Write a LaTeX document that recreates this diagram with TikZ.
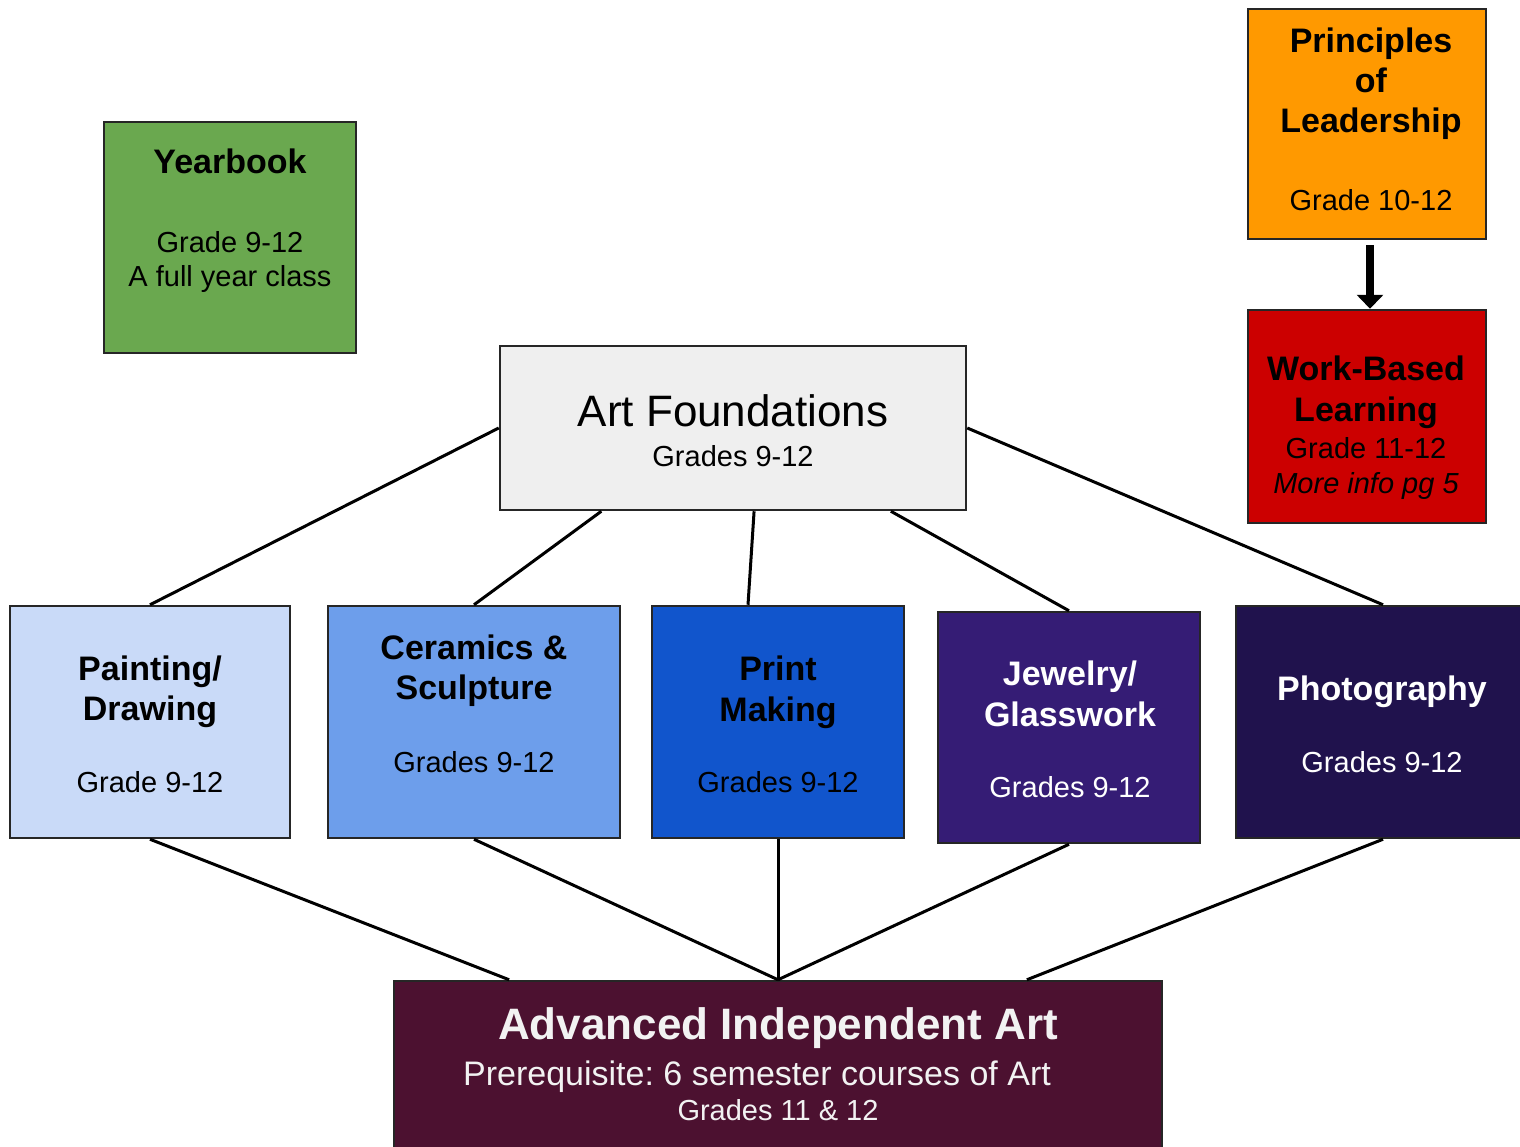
\documentclass[tikz,border=0pt]{standalone}
\usepackage{fontspec}
\setmainfont{Liberation Sans}
\usetikzlibrary{arrows.meta,calc}
\frenchspacing
\definecolor{cyb}{HTML}{6AA84F}
\definecolor{cpl}{HTML}{FF9900}
\definecolor{cwbl}{HTML}{CC0000}
\definecolor{caf}{HTML}{EFEFEF}
\definecolor{cpd}{HTML}{C9DAF8}
\definecolor{ccs}{HTML}{6D9EEB}
\definecolor{cpm}{HTML}{1155CC}
\definecolor{cjg}{HTML}{351C75}
\definecolor{cph}{HTML}{20124D}
\definecolor{caia}{HTML}{4C1130}
\begin{document}
\begin{tikzpicture}[x=1pt,y=-1pt,
  box/.style={draw=black!85, line width=2.5pt, rectangle, inner sep=0pt},
  conn/.style={draw=black, line width=3pt},
  tb/.style={font=\fontsize{34}{40}\selectfont\bfseries, anchor=base, inner sep=0pt},
  tr/.style={font=\fontsize{29}{34}\selectfont, anchor=base, inner sep=0pt},
  ti/.style={font=\fontsize{29}{34}\selectfont\itshape, anchor=base, inner sep=0pt}]
\useasboundingbox (0,0) rectangle (1520,1146);

% boxes
\node[box, fill=cyb, minimum width=252pt, minimum height=231pt] (yb) at (230,237.5) {};
\node[box, fill=cpl, minimum width=238pt, minimum height=230pt] (pl) at (1367,124) {};
\node[box, fill=cwbl, minimum width=238pt, minimum height=213pt] (wbl) at (1367,416.5) {};
\node[box, fill=caf, minimum width=466pt, minimum height=164pt] (af) at (733,428) {};
\node[box, fill=cpd, minimum width=280pt, minimum height=232pt] (pd) at (150,722) {};
\node[box, fill=ccs, minimum width=292pt, minimum height=232pt] (cs) at (474,722) {};
\node[box, fill=cpm, minimum width=252pt, minimum height=232pt] (pm) at (778,722) {};
\node[box, fill=cjg, minimum width=262pt, minimum height=231pt] (jg) at (1069,727.5) {};
\node[box, fill=cph, minimum width=294pt, minimum height=232pt] (ph) at (1383,722) {};
\node[box, fill=caia, minimum width=768pt, minimum height=179pt] (aia) at (778,1070.5) {};

% texts
\node[tb] at (230,173) {Yearbook};
\node[tr] at (230,252) {Grade 9-12};
\node[tr] at (230,286) {A full year class};

\node[tb] at (1371,52) {Principles};
\node[tb] at (1371,92) {of};
\node[tb] at (1371,132) {Leadership};
\node[tr] at (1371,210) {Grade 10-12};

\node[tb] at (1366,380) {Work-Based};
\node[tb] at (1366,421) {Learning};
\node[tr] at (1366,458) {Grade 11-12};
\node[ti] at (1366,493) {More info pg 5};

\node[font=\fontsize{44}{50}\selectfont, anchor=base, inner sep=0pt] at (733,426) {Art Foundations};
\node[tr] at (733,466) {Grades 9-12};

\node[tb] at (150,680) {Painting/};
\node[tb] at (150,720) {Drawing};
\node[tr] at (150,792) {Grade 9-12};

\node[tb] at (474,659) {Ceramics \&};
\node[tb] at (474,699) {Sculpture};
\node[tr] at (474,772) {Grades 9-12};

\node[tb] at (778,680) {Print};
\node[tb] at (778,721) {Making};
\node[tr] at (778,792) {Grades 9-12};

\node[tb, text=white] at (1070,685) {Jewelry/};
\node[tb, text=white] at (1070,726) {Glasswork};
\node[tr, text=white] at (1070,797) {Grades 9-12};

\node[tb, text=white] at (1382,700) {Photography};
\node[tr, text=white] at (1382,772) {Grades 9-12};

\node[font=\fontsize{44}{50}\selectfont\bfseries, anchor=base, inner sep=0pt, text=white!95!black] at (778,1039) {Advanced Independent Art};
\node[font=\fontsize{34}{40}\selectfont, anchor=base, inner sep=0pt, text=white!95!black] at (757,1085) {Prerequisite: 6 semester courses of Art};
\node[tr, text=white!95!black] at (778,1120) {Grades 11 \& 12};

% connectors
\draw[conn] (af.west) -- (pd.north);
\draw[conn] ($(af.south west)!0.219!(af.south east)$) -- (cs.north);
\draw[conn] ($(af.south west)!0.545!(af.south east)$) -- (pm.north west -| 748,0);
\draw[conn] ($(af.south west)!0.837!(af.south east)$) -- (jg.north);
\draw[conn] (af.east) -- (ph.north);

\coordinate (aiaL) at ($(aia.north west)!0.151!(aia.north east)$);
\coordinate (aiaR) at ($(aia.north west)!0.823!(aia.north east)$);
\draw[conn] (pd.south) -- (aiaL);
\draw[conn] (cs.south) -- (aia.north);
\draw[conn] (pm.south) -- (aia.north);
\draw[conn] (jg.south) -- (aia.north);
\draw[conn] (ph.south) -- (aiaR);

% arrow
\draw[line width=8pt, -{Triangle[width=26pt,length=14pt]}, shorten <=5pt] ($(pl.south)+(3,0)$) -- ($(wbl.north)+(3,0)$);
\end{tikzpicture}
\end{document}
